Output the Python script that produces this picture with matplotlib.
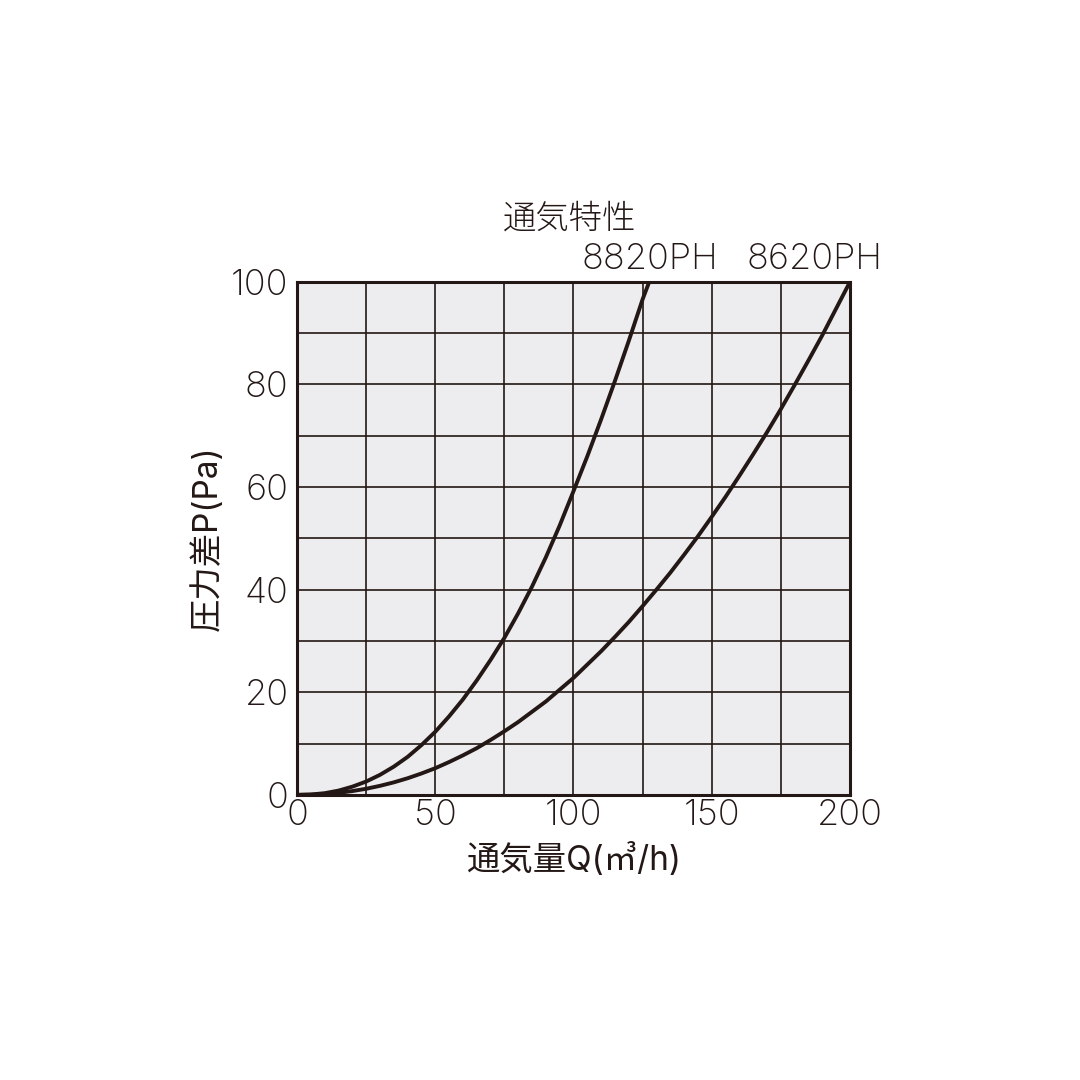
import matplotlib
matplotlib.use('Agg')
import matplotlib.pyplot as plt

plt.rcParams['font.family'] = ['Inter', 'Noto Sans CJK JP', 'DejaVu Sans']
plt.rcParams['font.weight'] = 'light'

# 通気量Q (m3/h) と 圧力差P (Pa)
q_8820 = [0, 5, 10, 15, 20, 25, 30, 35, 40, 45, 50, 55, 60, 65, 70, 75, 80,
          85, 90, 95, 100, 105, 110, 115, 120, 125, 127.4]
p_8820 = [0, 0.07, 0.33, 0.83, 1.6, 2.6, 3.9, 5.5, 7.4, 9.7, 12.3, 15.3,
          18.6, 22.3, 26.3, 30.6, 35.4, 40.6, 46.3, 52.5, 59.2, 66.0, 73.2,
          80.7, 88.5, 96.6, 100]

q_8620 = [0, 5, 10, 15, 20, 25, 30, 35, 40, 45, 50, 55, 60, 65, 70, 75, 80,
          85, 90, 95, 100, 105, 110, 115, 120, 125, 130, 135, 140, 145, 150,
          155, 160, 165, 170, 175, 180, 185, 190, 195, 200]
p_8620 = [0, 0.04, 0.17, 0.40, 0.74, 1.19, 1.76, 2.44, 3.24, 4.17, 5.2, 6.4,
          7.7, 9.1, 10.7, 12.4, 14.2, 16.2, 18.2, 20.5, 22.8, 25.4, 28.0, 30.8,
          33.7, 36.8, 40.0, 43.3, 46.8, 50.4, 54.2, 58.1, 62.2, 66.4, 70.7,
          75.2, 79.9, 84.7, 89.6, 94.8, 100]

series_names = ['8820PH', '8620PH']
label_x = [127.7, 187.3]

x_ticks = [0, 50, 100, 150, 200]
y_ticks = [0, 20, 40, 60, 80, 100]

ink = '#231815'

fig = plt.figure(figsize=(10.8, 10.8), dpi=100)
ax = fig.add_axes([0.275, 0.264, 0.512, 0.475])
ax.set_facecolor('#edecef')

ax.plot(q_8820, p_8820, color=ink, lw=2.8, solid_capstyle='butt', zorder=3)
ax.plot(q_8620, p_8620, color=ink, lw=2.8, solid_capstyle='butt', zorder=3)

ax.set_xlim(0, 200)
ax.set_ylim(0, 100)
ax.set_xticks(x_ticks)
ax.set_yticks(y_ticks)
ax.set_xticks(range(0, 201, 25), minor=True)
ax.set_yticks(range(0, 101, 10), minor=True)
ax.grid(which='both', color=ink, lw=1.2, zorder=1)
ax.set_axisbelow(True)
ax.tick_params(which='both', length=0)
ax.tick_params(axis='x', pad=3, labelsize=26, colors=ink)
ax.tick_params(axis='y', pad=6, labelsize=26, colors=ink)
for sp in ax.spines.values():
    sp.set_color(ink)
    sp.set_linewidth(2.2)

ax.set_xlabel('通気量Q(㎥/h)', fontsize=24, color=ink, labelpad=8)
ax.set_ylabel('圧力差P(Pa)', fontsize=24, color=ink, labelpad=5)

for name, lx in zip(series_names, label_x):
    ax.text(lx, 102.6, name, ha='center', va='baseline', fontsize=26,
            color=ink)
ax.text(98.7, 110.4, '通気特性', ha='center', va='baseline', fontsize=24,
        color=ink)

fig.savefig('out.png', dpi=100, facecolor='white')
